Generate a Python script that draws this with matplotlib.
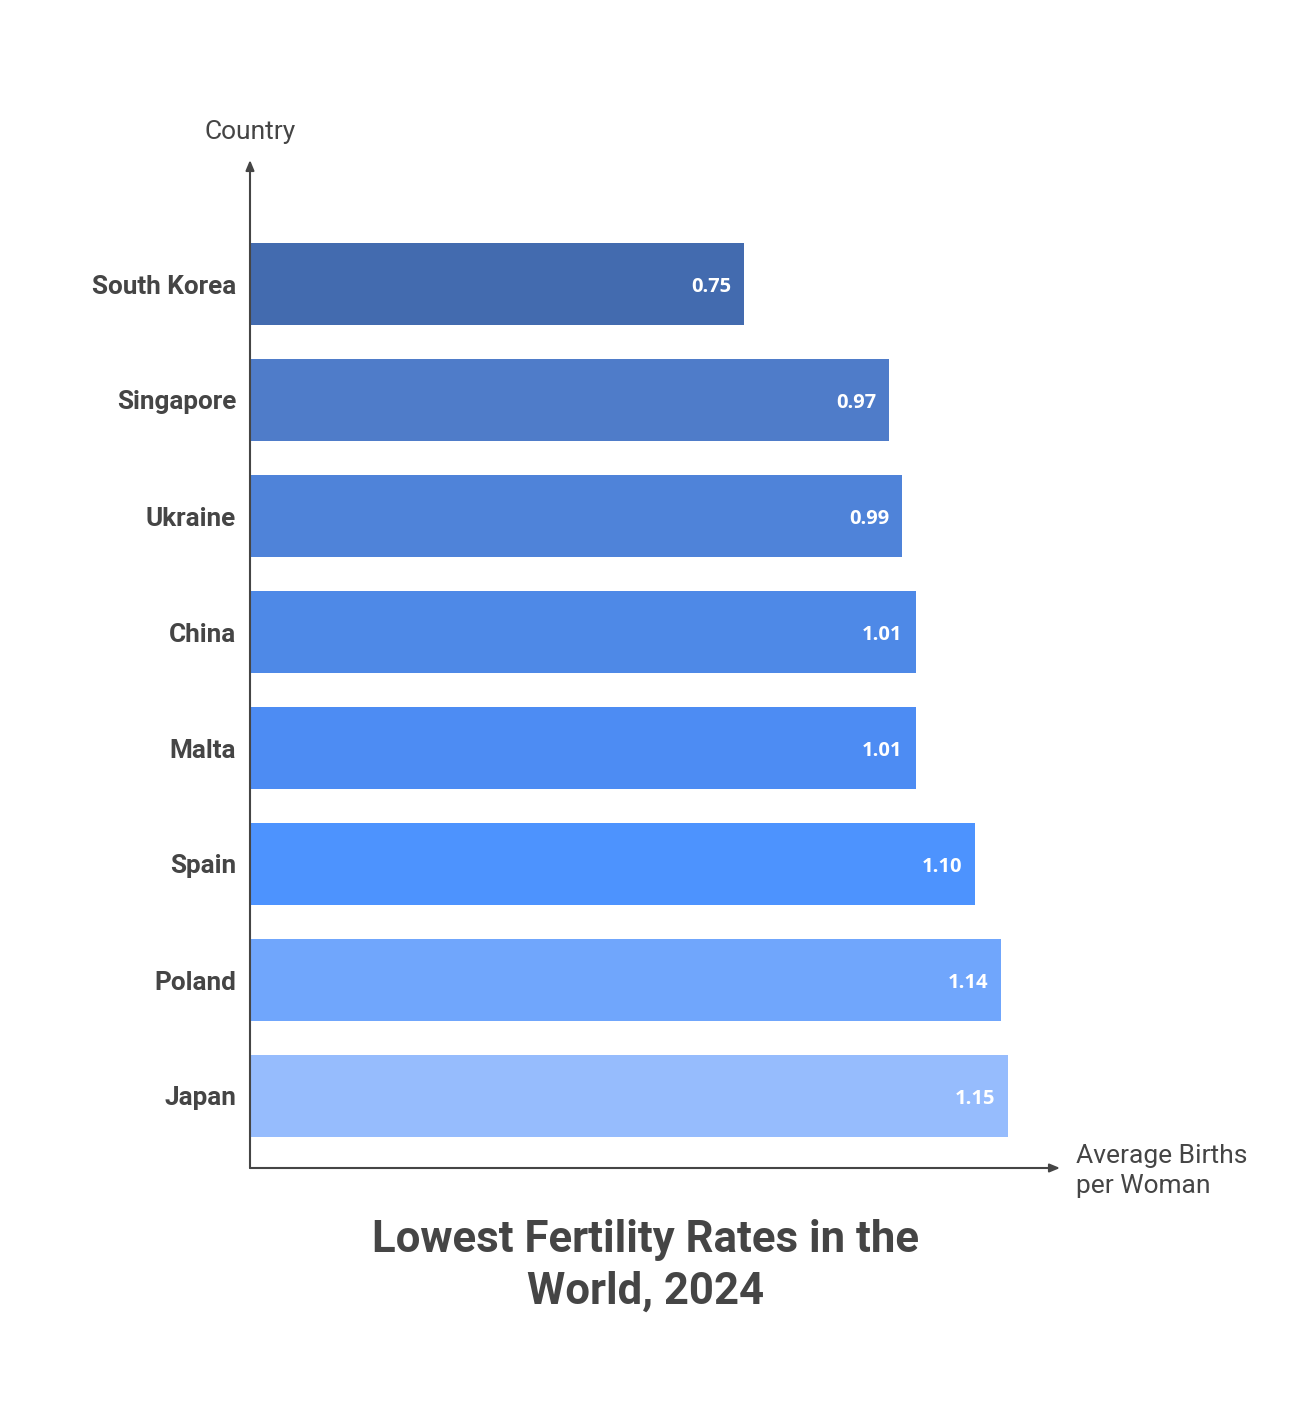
import matplotlib.pyplot as plt

countries = ["South Korea", "Singapore", "Ukraine", "China", "Malta", "Spain", "Poland", "Japan"]
births = [0.75, 0.97, 0.99, 1.01, 1.01, 1.10, 1.14, 1.15]
value_labels = ["0.75", "0.97", "0.99", "1.01", "1.01", "1.10", "1.14", "1.15"]
bar_colors = ["#436BAF", "#4F7CC9", "#4F83D9", "#4E89E7", "#4D8CF3", "#4D93FE", "#70A6FC", "#96BCFD"]

W, H = 1300, 1401
DARK = "#454545"


def main():
    fig = plt.figure(figsize=(W / 100, H / 100), dpi=100)
    fig.patch.set_facecolor("white")

    # axes box in pixels: x 250..1060, y 160..1168 (from top)
    ax = fig.add_axes([250 / W, (H - 1168) / H, 810 / W, (1168 - 160) / H])
    px_per_unit = 659.0
    ax.set_xlim(0, 810 / px_per_unit)
    ax.set_ylim(7 + 72 / 116, -124 / 116)

    ypos = list(range(len(countries)))
    ax.barh(ypos, births, height=82 / 116, color=bar_colors, zorder=2)

    for y, v, lab in zip(ypos, births, value_labels):
        ax.text(v - 13 / px_per_unit, y, lab, ha="right", va="center_baseline",
                color="white", fontsize=14.5, fontweight="bold", family="Open Sans")

    ax.set_yticks(ypos)
    ax.set_yticklabels(countries, fontsize=18.8, fontweight="bold",
                       family="Roboto", color=DARK)
    ax.tick_params(axis="y", length=0, pad=10)
    ax.set_xticks([])
    for s in ax.spines.values():
        s.set_visible(False)

    # axis arrows
    arrow = dict(arrowstyle="-|>,head_length=0.6,head_width=0.25", color=DARK, lw=1.5,
                 shrinkA=0, shrinkB=0)
    ax.annotate("", xy=(0, 1), xytext=(0, 0), xycoords="axes fraction", arrowprops=arrow)
    ax.annotate("", xy=(1, 0), xytext=(0, 0), xycoords="axes fraction", arrowprops=arrow)

    fig.text(250 / W, 1 - 132 / H, "Country", ha="center", va="center",
             fontsize=19, family="Roboto", color=DARK)
    fig.text(1076 / W, 1 - 1171 / H, "Average Births\nper Woman", ha="left", va="center",
             fontsize=19, family="Roboto", color=DARK, linespacing=1.33)
    fig.text(646 / W, 1 - 1266 / H, "Lowest Fertility Rates in the\nWorld, 2024",
             ha="center", va="center", fontsize=31.5, fontweight="bold",
             family="Roboto", color=DARK, linespacing=1.28)

    fig.savefig("out.png", dpi=100, facecolor="white")


if __name__ == "__main__":
    main()
